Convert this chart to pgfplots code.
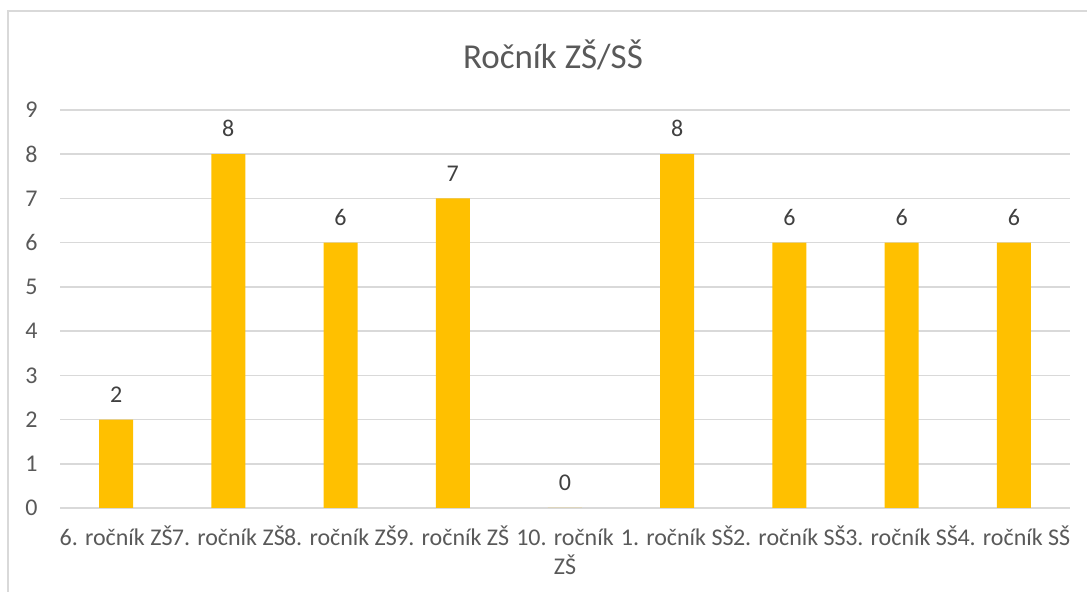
\documentclass[border=0pt]{standalone}
\usepackage{pgfplots}
\pgfplotsset{compat=1.18}
\usepackage{fontspec}
\setmainfont{Carlito}
\definecolor{barc}{HTML}{FFC000}
\definecolor{gridc}{HTML}{D9D9D9}
\definecolor{txt}{HTML}{595959}
\definecolor{lbl}{HTML}{404040}
\definecolor{framec}{HTML}{D9D9D9}
\begin{document}
\begin{tikzpicture}
\path[use as bounding box] (0pt,0pt) rectangle (543.5pt,296pt);
\draw[color=framec, line width=0.75pt] (4pt,-2pt) -- (4pt,290.5pt) -- (545pt,290.5pt);
\node[text=txt, font=\fontsize{17.5}{21}\selectfont] at (276.5pt,268.5pt) {Ročník ZŠ/SŠ};
\begin{axis}[
  at={(30pt,42pt)}, anchor=south west, scale only axis,
  width=505pt, height=199pt,
  ymin=0, ymax=9, xmin=-0.5, xmax=8.5,
  ytick={0,...,9}, xtick={0,...,8},
  xticklabels={6. ročník ZŠ,7. ročník ZŠ,8. ročník ZŠ,9. ročník ZŠ,{\begin{tabular}[t]{@{}c@{}}10. ročník\\ZŠ\end{tabular}},1. ročník SŠ,2. ročník SŠ,3. ročník SŠ,4. ročník SŠ},
  ymajorgrids, grid style={color=gridc, line width=0.75pt},
  axis line style={draw=none}, major tick length=0pt,
  /pgf/number format/assume math mode=true,
  ticklabel style={text=txt, font=\fontsize{12}{14.5}\selectfont},
  xticklabel style={anchor=base, yshift=-19pt},
  yticklabel style={xshift=-7.7pt},
  ybar, bar width=17pt,
  nodes near coords,
  nodes near coords style={text=lbl, font=\fontsize{12}{14.5}\selectfont, yshift=5pt},
  clip=false,
]
\addplot[fill=barc, draw=none] coordinates {(0,2) (1,8) (2,6) (3,7) (4,0) (5,8) (6,6) (7,6) (8,6)};
\end{axis}
\end{tikzpicture}
\end{document}
